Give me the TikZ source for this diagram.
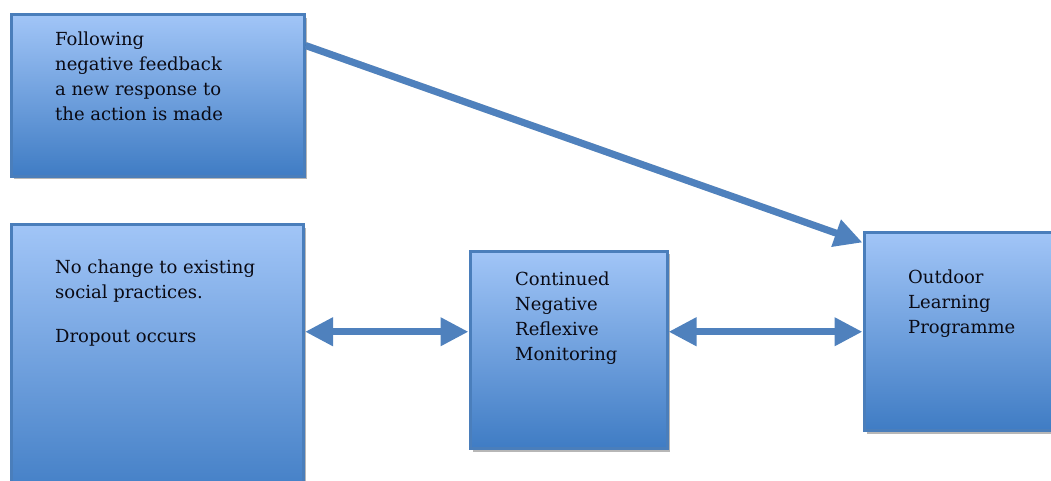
\documentclass[tikz,border=0pt]{standalone}
\usepackage{fontspec}
\setmainfont{DejaVu Serif}
\usetikzlibrary{arrows.meta,shadows,calc}

\definecolor{boxtop}{RGB}{161,197,247}
\definecolor{boxbottom}{RGB}{63,124,196}
\definecolor{boxedge}{RGB}{74,126,187}
\definecolor{linkblue}{RGB}{79,129,189}
\definecolor{inktext}{RGB}{10,10,20}

\tikzset{
  panel/.style={draw=boxedge, line width=3bp, rectangle, anchor=north west,
    top color=boxtop, bottom color=boxbottom, inner sep=0pt,
    drop shadow={shadow xshift=2.5bp, shadow yshift=-3bp, opacity=.4, fill=black!70}},
  caption/.style={anchor=north west, inner sep=0pt, align=left, text=inktext,
    font=\fontsize{18bp}{25bp}\selectfont},
  link/.style={draw=linkblue, line width=7bp,
    -{Triangle[length=28bp,width=27bp]}},
  biglink/.style={draw=linkblue, line width=7bp,
    {Triangle[length=28bp,width=27bp]}-{Triangle[length=28bp,width=27bp]}},
  linkshade/.style={draw=black, opacity=.15, line width=7bp,
    shift={(2bp,-3bp)}}
}

\begin{document}
\begin{tikzpicture}[x=1bp,y=-1bp]
  \useasboundingbox (0,0) rectangle (1051,481);
  \clip (0,0) rectangle (1051,481);

  % boxes
  \node[panel, minimum width=293bp, minimum height=161.5bp] (fb) at (9.5,13.5) {};
  \node[panel, minimum width=292.5bp, minimum height=280bp] (nc) at (9.5,223.5) {};
  \node[panel, minimum width=197bp, minimum height=197bp] (cm) at (468.5,250) {};
  \node[panel, minimum width=210bp, minimum height=197.5bp] (olp) at (862.5,231.5) {};

  % texts
  \node[caption] (fbt) at (55,31.5) {Following\\negative feedback\\a new response to\\the action is made};
  \node[caption] (nct) at (55,260) {No change to existing\\social practices.\\[18.4bp]Dropout occurs};
  \node[caption] (cmt) at (515,272) {Continued\\Negative\\Reflexive\\Monitoring};
  \node[caption] (olpt) at (908,269.5) {Outdoor\\Learning\\Programme};

  % soft shadows under the shafts
  \draw[linkshade] ($(fb.north east)+(0,32)$) -- ($(olp.north west)+(-28,1)$);
  \draw[linkshade] ($(nc.east |- olp.west)+(28,0)$) -- ($(cm.west |- olp.west)+(-28,0)$);
  \draw[linkshade] ($(cm.east |- olp.west)+(28,0)$) -- ($(olp.west)+(-28,0)$);

  % connectors
  \draw[link] ($(fb.north east)+(0,32)$) -- ($(olp.north west)+(0,11)$);
  \draw[biglink] (nc.east |- olp.west) -- (cm.west |- olp.west);
  \draw[biglink] (cm.east |- olp.west) -- (olp.west);
\end{tikzpicture}
\end{document}
